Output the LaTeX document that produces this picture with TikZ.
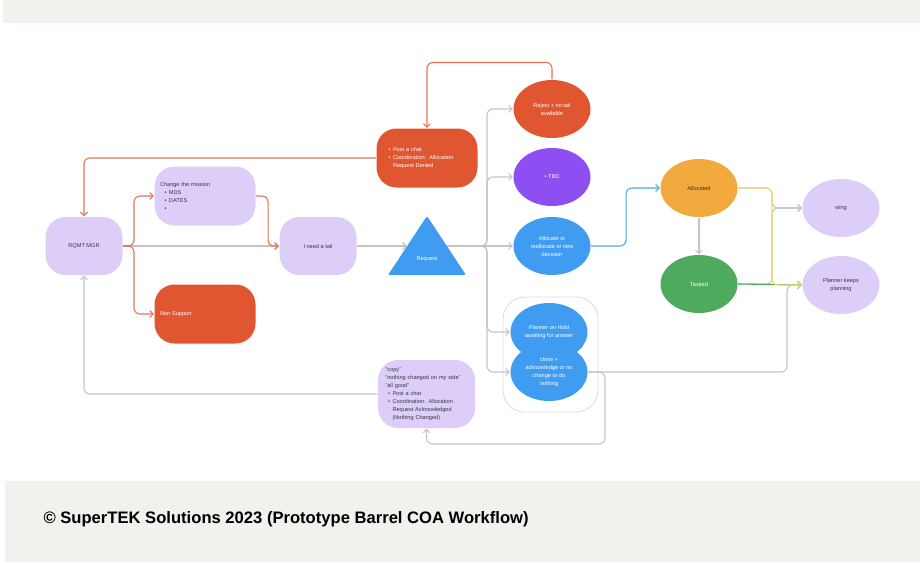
\documentclass[tikz,border=0pt]{standalone}
\usepackage{fontspec}
\setmainfont{Liberation Sans}
\usetikzlibrary{arrows.meta,shapes.geometric}
\definecolor{band}{RGB}{242,241,237}
\definecolor{lav}{RGB}{221,206,249}
\definecolor{brick}{RGB}{224,86,48}
\definecolor{violet}{RGB}{142,79,242}
\definecolor{sky}{RGB}{64,156,240}
\definecolor{amber}{RGB}{242,169,62}
\definecolor{leaf}{RGB}{78,170,93}
\definecolor{ink}{RGB}{55,55,60}
\definecolor{wire}{RGB}{196,196,198}
\definecolor{wireO}{RGB}{226,116,86}
\definecolor{wireB}{RGB}{80,168,236}
\definecolor{wireY}{RGB}{246,216,104}
\definecolor{frame}{RGB}{225,215,245}
\newcommand{\bul}{\makebox[7pt][c]{\textbullet}}
\newcommand{\cont}{\hspace*{7pt}}

\begin{document}
\begin{tikzpicture}[x=1pt,y=-1pt,line width=1.1pt,
   tag/.style={font=\fontsize{5.6}{8}\selectfont, inner sep=0pt},
   box/.style={tag, rounded corners=20pt, minimum width=101pt, minimum height=59pt, fill=lav, text=ink},
   oval/.style={tag, ellipse, minimum width=77pt, minimum height=58pt, align=center, text=white},
   tip/.style={-{Straight Barb[length=3.5pt,width=7pt]}, rounded corners=6pt},
   gl/.style={tip, draw=wire},
   ol/.style={tip, draw=wireO},
   bl/.style={tip, draw=wireB},
   yl/.style={tip, draw=wireY}]
  \useasboundingbox (0,0) rectangle (920,562);
  % page bands
  \fill[band] (3,0) rectangle (920,23);
  \fill[band] (5,481) rectangle (920,562);
  \node[anchor=west, font=\bfseries\fontsize{16.6}{19}\selectfont, inner sep=0pt] (credit) at (43,519)
    {© SuperTEK Solutions 2023 (Prototype Barrel COA Workflow)};
  % requester side
  \node[box, minimum width=77pt, minimum height=58pt](rqmt) at (84,246){RQMT MGR};
  \node[box, text width=90pt, align=left](mission) at (205,196)
    {Change the mission\\\hspace*{2pt}\bul MDS\\\hspace*{2pt}\bul DATES\\\hspace*{2pt}\bul};
  \node[box, fill=brick, text=white, text width=90pt, align=left](nonsup) at (205,314){Non Support};
  \node[box, minimum width=77pt, minimum height=58pt](tail) at (318,246){I need a tail};
  \fill[sky, rounded corners=2pt] (427,216) -- (466,275) -- (388,275) -- cycle;
  \node[tag, text=white](req) at (427,259){Request};
  \coordinate (req-w) at (407,246); \coordinate (req-e) at (447,246);
  \node[box, fill=brick, text=white, text width=82pt, align=left](denied) at (427,158)
    {\bul Post a chat\\\bul Coordination: Allocation\\\cont Request Denied};
  \node[box, minimum width=97pt, minimum height=68pt, text width=82pt, align=left](copy) at (426.5,394)
    {"copy"\\"nothing changed on my side"\\"all good"\\\bul Post a chat\\\bul Coordination: Allocation\\\cont Request Acknowledged\\\cont (Nothing Changed)};
  % outcomes
  \node[oval, fill=brick](reject) at (552,109){Reject + no tail\\available};
  \node[oval, fill=violet](tbd) at (552,177){\textbullet\ TBD};
  \node[oval, fill=sky](alloc) at (552,246){Allocate or\\reallocate or new\\decision};
  \node[draw=frame, line width=0.9pt, rounded corners=22pt, minimum width=95pt, minimum height=115pt](hold-grp) at (550.5,354.5){};
  \node[oval, fill=sky](hold) at (549,332){Planner on Hold\\awaiting for answer};
  \node[oval, fill=sky](close) at (549,372){close +\\acknowledge or no\\change or do\\nothing};
  \node[oval, fill=amber, text=ink](allocd) at (699,188){Allocated};
  \node[oval, fill=leaf](tasked) at (699,284){Tasked};
  \node[oval, fill=lav, text=ink](wing) at (841,208){wing};
  \node[oval, fill=lav, text=ink](keeps) at (841,285){Planner keeps\\planning};
  % connectors, left part
  \draw[gl] (rqmt.east) -- (tail.west);
  \draw[ol] (rqmt.east) -- (134,246) |- (mission.west);
  \draw[ol] (rqmt.east) -- (134,246) |- (nonsup.west);
  \draw[ol] (mission.east) -- ++(12,0) |- (tail.west);
  \draw[gl] (tail.east) -- (req-w);
  \draw[ol] (denied.west) -| (rqmt.north);
  \draw[ol] (reject.north) -- ++(0,-17) -| (denied.north);
  \draw[gl] (copy.west) -| (rqmt.south);
  % fan out of the request
  \draw[gl] (req-e) -- (alloc.west);
  \draw[gl] (req-e) -- (487,246) |- (reject.west);
  \draw[gl] (req-e) -- (487,246) |- (tbd.west);
  \draw[gl] (req-e) -- (487,246) |- (hold.west);
  \draw[gl] (req-e) -- (487,246) |- (close.west);
  \draw[gl] (close.east) -| (605,444) -| (copy.south);
  \draw[gl] (close.east) -- (787,372) |- (keeps.west);
  % connectors, right part
  \draw[bl] (alloc.east) -- ++(35,0) |- (allocd.west);
  \draw[gl] (allocd.south) -- (tasked.north);
  \draw[gl] (allocd.east) -- (772,188) |- (wing.west);
  \draw[gl] (tasked.east) -- (772,284) |- (wing.west);
  \draw[tip, draw=leaf] (tasked.east) -- (keeps.west);
  \draw[yl] (allocd.east) -- (772,188) |- (keeps.west);
\end{tikzpicture}
\end{document}
